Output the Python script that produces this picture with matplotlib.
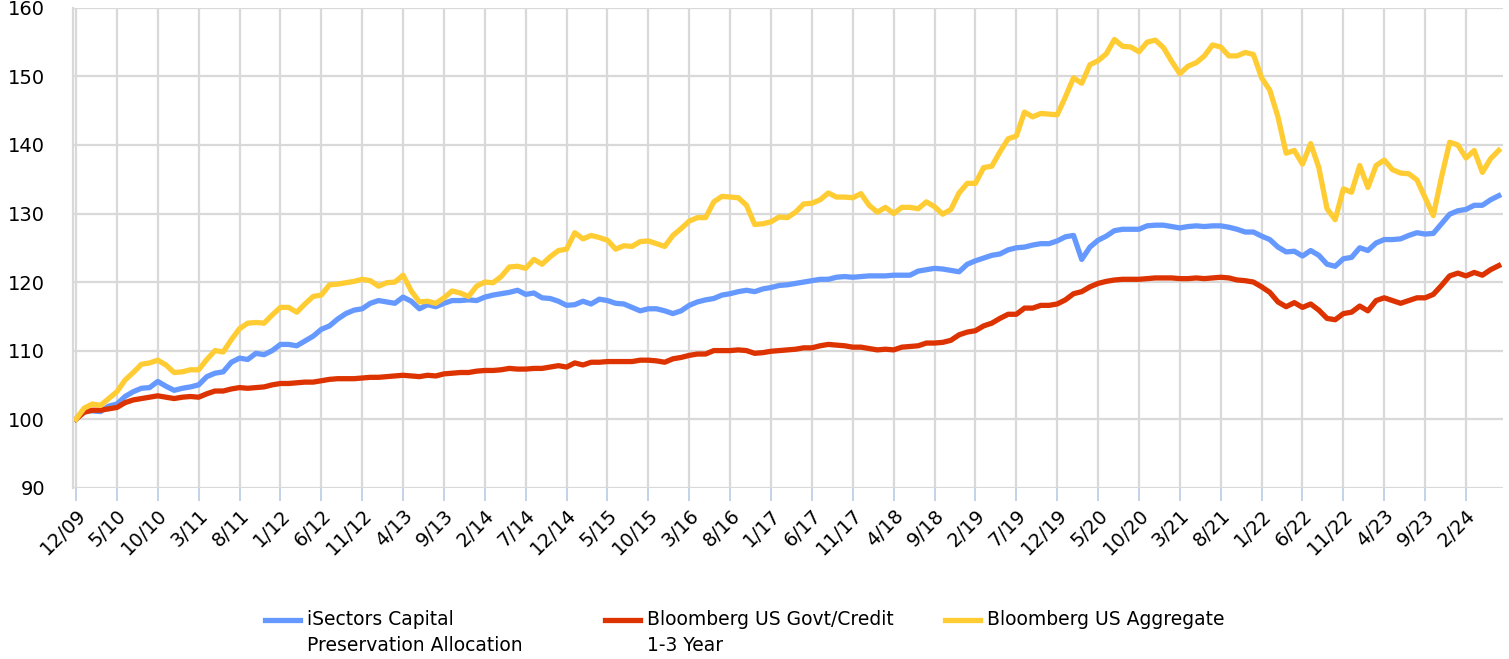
import numpy as np
import pandas as pd
import matplotlib
matplotlib.use('Agg')
import matplotlib.pyplot as plt
from matplotlib.lines import Line2D

months = pd.date_range('2009-12-01', '2024-06-01', freq='MS')

tick_labels = ['12/09', '5/10', '10/10', '3/11', '8/11', '1/12', '6/12', '11/12',
               '4/13', '9/13', '2/14', '7/14', '12/14', '5/15', '10/15', '3/16',
               '8/16', '1/17', '6/17', '11/17', '4/18', '9/18', '2/19', '7/19',
               '12/19', '5/20', '10/20', '3/21', '8/21', '1/22', '6/22', '11/22',
               '4/23', '9/23', '2/24']

isectors = [100.0, 101.3, 101.2, 101.1, 101.9, 102.2, 103.3, 104.0, 104.5, 104.6,
            105.5, 104.8, 104.2, 104.5, 104.7, 105.0, 106.2, 106.7, 106.9, 108.3,
            108.9, 108.7, 109.6, 109.4, 110.0, 110.9, 110.9, 110.7, 111.4, 112.1,
            113.1, 113.6, 114.6, 115.4, 115.9, 116.1, 116.9, 117.3, 117.1, 116.9,
            117.8, 117.2, 116.1, 116.7, 116.4, 116.9, 117.3, 117.3, 117.4, 117.3,
            117.8, 118.1, 118.3, 118.5, 118.8, 118.2, 118.4, 117.7, 117.6, 117.2,
            116.6, 116.7, 117.2, 116.8, 117.5, 117.3, 116.9, 116.8, 116.3, 115.8,
            116.1, 116.1, 115.8, 115.4, 115.8, 116.6, 117.1, 117.4, 117.6, 118.1,
            118.3, 118.6, 118.8, 118.6, 119.0, 119.2, 119.5, 119.6, 119.8, 120.0,
            120.2, 120.4, 120.4, 120.7, 120.8, 120.7, 120.8, 120.9, 120.9, 120.9,
            121.0, 121.0, 121.0, 121.6, 121.8, 122.0, 121.9, 121.7, 121.5, 122.6,
            123.1, 123.5, 123.9, 124.1, 124.7, 125.0, 125.1, 125.4, 125.6, 125.6,
            126.0, 126.6, 126.8, 123.3, 125.1, 126.1, 126.7, 127.5, 127.7, 127.7,
            127.7, 128.2, 128.3, 128.3, 128.1, 127.9, 128.1, 128.2, 128.1, 128.2,
            128.2, 128.0, 127.7, 127.3, 127.3, 126.7, 126.2, 125.1, 124.4, 124.5,
            123.8, 124.6, 123.9, 122.6, 122.3, 123.4, 123.6, 125.0, 124.6, 125.7,
            126.2, 126.2, 126.3, 126.8, 127.2, 127.0, 127.1, 128.5, 129.9, 130.4,
            130.6, 131.2, 131.2, 132.0, 132.6]

govt_credit = [100.0, 101.0, 101.3, 101.3, 101.5, 101.7, 102.4, 102.8, 103.0, 103.2,
               103.4, 103.2, 103.0, 103.2, 103.3, 103.2, 103.7, 104.1, 104.1, 104.4,
               104.6, 104.5, 104.6, 104.7, 105.0, 105.2, 105.2, 105.3, 105.4, 105.4,
               105.6, 105.8, 105.9, 105.9, 105.9, 106.0, 106.1, 106.1, 106.2, 106.3,
               106.4, 106.3, 106.2, 106.4, 106.3, 106.6, 106.7, 106.8, 106.8, 107.0,
               107.1, 107.1, 107.2, 107.4, 107.3, 107.3, 107.4, 107.4, 107.6, 107.8,
               107.6, 108.2, 107.9, 108.3, 108.3, 108.4, 108.4, 108.4, 108.4, 108.6,
               108.6, 108.5, 108.3, 108.8, 109.0, 109.3, 109.5, 109.5, 110.0, 110.0,
               110.0, 110.1, 110.0, 109.6, 109.7, 109.9, 110.0, 110.1, 110.2, 110.4,
               110.4, 110.7, 110.9, 110.8, 110.7, 110.5, 110.5, 110.3, 110.1, 110.2,
               110.1, 110.5, 110.6, 110.7, 111.1, 111.1, 111.2, 111.5, 112.3, 112.7,
               112.9, 113.6, 114.0, 114.7, 115.3, 115.3, 116.2, 116.2, 116.6, 116.6,
               116.8, 117.4, 118.3, 118.6, 119.3, 119.8, 120.1, 120.3, 120.4, 120.4,
               120.4, 120.5, 120.6, 120.6, 120.6, 120.5, 120.5, 120.6, 120.5, 120.6,
               120.7, 120.6, 120.3, 120.2, 120.0, 119.3, 118.5, 117.1, 116.4, 117.0,
               116.3, 116.8, 115.9, 114.7, 114.5, 115.4, 115.6, 116.5, 115.8, 117.3,
               117.7, 117.3, 116.9, 117.3, 117.7, 117.7, 118.2, 119.5, 120.9, 121.3,
               120.9, 121.4, 121.0, 121.8, 122.4]

aggregate = [100.0, 101.6, 102.2, 102.0, 103.0, 104.0, 105.7, 106.8, 108.0, 108.2,
             108.6, 107.9, 106.8, 106.9, 107.2, 107.2, 108.7, 110.0, 109.8, 111.6,
             113.2, 114.0, 114.1, 114.0, 115.2, 116.3, 116.3, 115.6, 116.8, 117.9,
             118.1, 119.6, 119.7, 119.9, 120.1, 120.4, 120.2, 119.4, 119.9, 120.0,
             121.0, 118.7, 117.1, 117.2, 116.9, 117.7, 118.7, 118.4, 117.9, 119.4,
             120.0, 119.9, 120.8, 122.2, 122.3, 122.0, 123.3, 122.6, 123.7, 124.6,
             124.8, 127.2, 126.3, 126.8, 126.5, 126.1, 124.8, 125.3, 125.2, 125.9,
             126.0, 125.6, 125.2, 126.8, 127.8, 128.9, 129.4, 129.4, 131.7, 132.5,
             132.4, 132.3, 131.2, 128.4, 128.5, 128.8, 129.5, 129.4, 130.2, 131.4,
             131.5, 132.0, 133.0, 132.4, 132.4, 132.3, 132.9, 131.2, 130.2, 130.9,
             130.0, 130.9, 130.9, 130.7, 131.7, 131.0, 129.9, 130.6, 133.0, 134.4,
             134.4, 136.7, 136.9, 139.0, 140.9, 141.3, 144.8, 144.1, 144.6, 144.5,
             144.4, 147.0, 149.8, 149.0, 151.7, 152.3, 153.3, 155.4, 154.4, 154.3,
             153.6, 155.0, 155.3, 154.2, 152.2, 150.4, 151.5, 152.0, 153.0, 154.6,
             154.3, 153.0, 153.0, 153.5, 153.2, 149.8, 148.0, 144.1, 138.8, 139.2,
             137.2, 140.2, 136.7, 130.7, 129.1, 133.6, 133.1, 137.0, 133.8, 137.0,
             137.8, 136.4, 135.9, 135.8, 134.9, 132.3, 129.7, 135.3, 140.4, 140.0,
             138.1, 139.2, 136.0, 138.0, 139.2]

series_names = ['iSectors Capital\nPreservation Allocation',
                'Bloomberg US Govt/Credit\n1-3 Year',
                'Bloomberg US Aggregate']
colors = ['#6699ff', '#dd3300', '#ffcc33']

x = np.arange(len(months))
W, H = 1509, 659

fig = plt.figure(figsize=(W / 100, H / 100), dpi=100)
ax = fig.add_axes([0.0482, 0.26, 0.9477, 0.728])

for vals, name, c in zip([isectors, govt_credit, aggregate], series_names, colors):
    ax.plot(x, vals, color=c, lw=3.8, label=name, solid_joinstyle='round')

ax.set_xlim(-0.4, 174.5)
ax.set_ylim(90, 160)
ax.set_yticks(np.arange(90, 161, 10))
ax.set_xticks(x[::5])
ax.set_xticklabels(tick_labels, rotation=45, ha='right', rotation_mode='anchor')

ax.grid(True, color='#d9d9d9', lw=1.6)
ax.set_axisbelow(True)
for s in ['top', 'right', 'bottom']:
    ax.spines[s].set_visible(False)
ax.spines['left'].set_color('#d9d9d9')
ax.spines['left'].set_linewidth(1.6)

ax.tick_params(axis='y', length=0, pad=20, labelsize=14)
ax.tick_params(axis='x', length=9, width=1.2, color='#b8cce4', pad=4, labelsize=14)

# legend drawn by hand: handle sits on the first text line, columns evenly spaced
leg_x = [265, 605, 945]
leg_y = 620
for lx, name, c in zip(leg_x, series_names, colors):
    fig.add_artist(Line2D([lx / W, (lx + 35) / W], [1 - leg_y / H] * 2,
                          color=c, lw=3.8, transform=fig.transFigure))
    fig.text((lx + 42) / W, 1 - (leg_y - 10) / H, name, fontsize=13.5,
             va='top', ha='left', linespacing=1.45)

plt.savefig('out.png', dpi=100)
